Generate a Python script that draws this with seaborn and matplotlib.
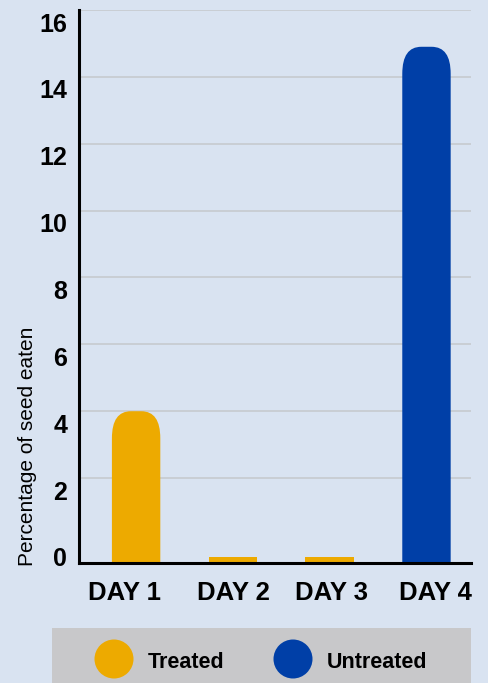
import numpy as np
import pandas as pd
import seaborn as sns
import matplotlib
matplotlib.use("Agg")
import matplotlib.pyplot as plt
from matplotlib.patches import FancyBboxPatch, Circle
from matplotlib.transforms import ScaledTranslation

# ---- data ----
days = ["DAY 1", "DAY 2", "DAY 3", "DAY 4"]
groups = ["Treated", "Treated", "Treated", "Untreated"]
pct_eaten = [4.0, 0.0, 0.0, 14.9]
legend_labels = ["Treated", "Untreated"]
colors = ["#EDAA00", "#003FA7"]
yticks = [0, 2, 4, 6, 8, 10, 12, 14, 16]
ylabel = "Percentage of seed eaten"

BG = "#D9E3F1"
LEG_BG = "#C8C8CA"
GRID = "#C6CACF"
TXT = "#000000"

sns.set_style("white")
plt.rcParams["font.family"] = ["Liberation Sans", "DejaVu Sans"]
plt.rcParams["text.color"] = TXT
plt.rcParams["xtick.color"] = TXT
plt.rcParams["ytick.color"] = TXT

df = pd.DataFrame({"day": days, "group": groups, "pct": pct_eaten})
palette = dict(zip(legend_labels, colors))

W, H, DPI = 489, 683, 100
fig = plt.figure(figsize=(W / DPI, H / DPI), dpi=DPI, facecolor=BG)
ax = fig.add_axes([79 / W, 1 - 563 / H, (471 - 79) / W, (563 - 10) / H])
ax.set_facecolor(BG)

ybot, ytop = -0.54, 16
sns.barplot(data=df, x="day", y="pct", hue="group", palette=palette,
            dodge=False, width=0.5, legend=False, ax=ax, zorder=3,
            saturation=1)
ax.set_xlim(-0.59, 3.46)
ax.set_ylim(ybot, ytop)

# gridlines (not at zero)
for t in yticks:
    if t > 0:
        ax.axhline(t, color=GRID, lw=1.2, zorder=1)

# reshape bars: start at the axis floor, rounded tops for tall bars
stub = 0.18
px_x = (471 - 79) / (3.46 + 0.59)
px_y = (563 - 10) / (ytop - ybot)
rx = 19 / px_x
ry = 27 / px_y
for p in list(ax.patches):
    x, w, h = p.get_x(), p.get_width(), p.get_height()
    fc = p.get_facecolor()
    if h > 1:
        top = h
        p.remove()
        fb = FancyBboxPatch((x, ybot - 2), w, top - (ybot - 2),
                            boxstyle=f"round,pad=0,rounding_size={rx}",
                            mutation_aspect=ry / rx, facecolor=fc,
                            edgecolor="none", zorder=3, clip_on=True)
        ax.add_patch(fb)
        fb.set_clip_path(ax.patch)
    else:
        p.set_y(ybot)
        p.set_height(stub)
        p.set_edgecolor("none")

# spines
for s in ["top", "right"]:
    ax.spines[s].set_visible(False)
for s in ["left", "bottom"]:
    ax.spines[s].set_color("black")
    ax.spines[s].set_linewidth(2.2)
    ax.spines[s].set_zorder(5)

ax.set_yticks(yticks)
ax.set_yticklabels([str(t) for t in yticks], fontsize=18, fontweight="bold")
ax.tick_params(axis="y", length=0, pad=8.5, labelcolor=TXT)
ax.tick_params(axis="x", length=0, pad=13, labelcolor=TXT)
xlab_shift = [-12, 1, 2, 9]
for lbl, dx in zip(ax.get_xticklabels(), xlab_shift):
    lbl.set_fontsize(18.5)
    lbl.set_fontweight("bold")
    lbl.set_transform(lbl.get_transform()
                      + ScaledTranslation(dx / DPI, 0, fig.dpi_scale_trans))
off = ScaledTranslation(0, -12 / DPI, fig.dpi_scale_trans)
for lbl in ax.get_yticklabels():
    lbl.set_transform(lbl.get_transform() + off)
ax.set_xlabel("")
ax.set_ylabel("")

fig.text(28 / W, 1 - 566 / H, ylabel, rotation=90, ha="center",
         va="bottom", fontsize=15, color=TXT)

# legend panel
lax = fig.add_axes([52 / W, 0, (471 - 52) / W, 55 / H])
lax.set_xlim(0, 419)
lax.set_ylim(0, 55)
lax.set_facecolor(LEG_BG)
for s in lax.spines.values():
    s.set_visible(False)
lax.set_xticks([])
lax.set_yticks([])
circle_x = [62, 241]
text_x = [96, 275]
for lab, col, cx, tx in zip(legend_labels, colors, circle_x, text_x):
    lax.add_patch(Circle((cx, 24), 19.5, facecolor=col, edgecolor="none"))
    lax.text(tx, 21, lab, ha="left", va="center", fontsize=15.5,
             fontweight="bold", color=TXT)

fig.savefig("out.png", dpi=DPI, facecolor=BG)
